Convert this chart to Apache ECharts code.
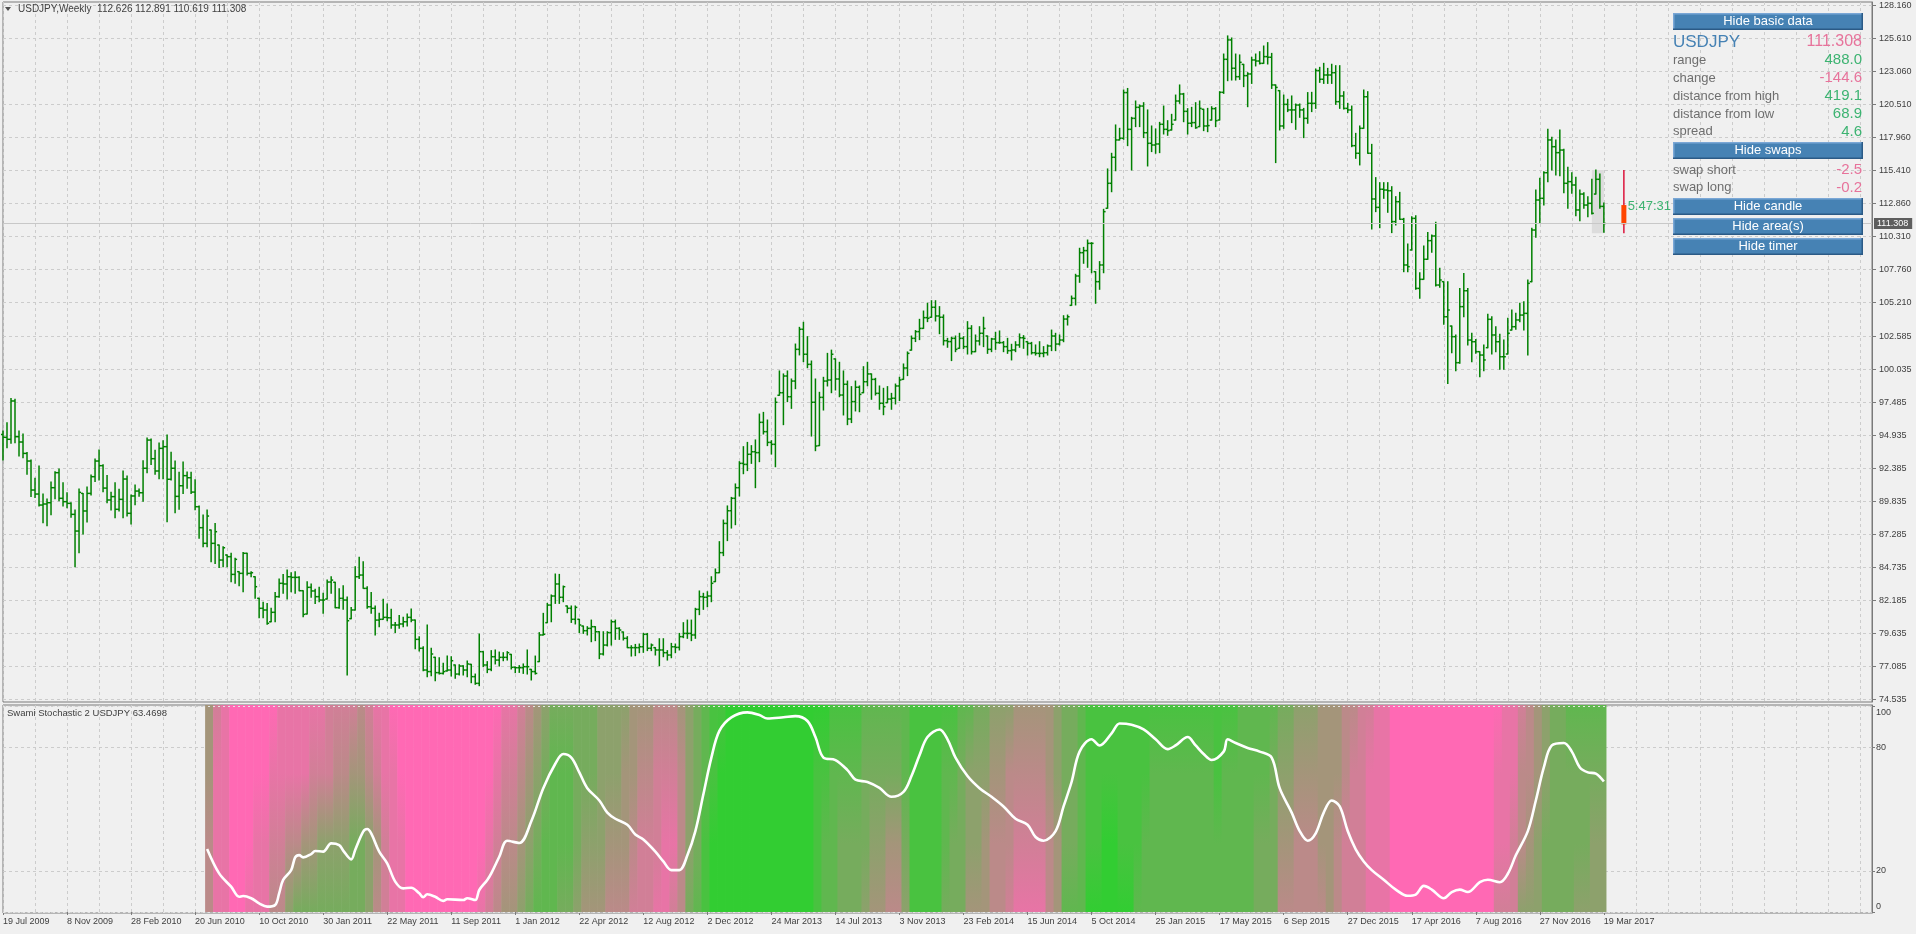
<!DOCTYPE html>
<html>
<head>
<meta charset="utf-8">
<title>USDJPY Weekly</title>
<script src="https://cdn.jsdelivr.net/npm/echarts@6/dist/echarts.min.js"></script>
<style>
html, body { margin: 0; padding: 0; background: #f0f0f0; }
#chart { width: 1916px; height: 934px; }
</style>
</head>
<body>
<div id="chart"></div>
<script>
// weekly bars, bar 0 = 19 Jul 2009, bar 400 = 19 Mar 2017
const firstOpen = 95.0
const highs = [95.27,95.91,97.79,97.72,95.27,95.04,93.60,93.03,91.61,92.57,90.40,90.01,91.33,92.13,92.33,91.28,90.50,89.73,89.16,90.79,
  90.45,90.94,91.87,93.11,93.80,92.67,91.84,90.53,91.28,90.76,92.18,91.79,90.32,91.10,90.79,92.98,94.73,94.65,93.78,94.34,
  94.52,94.96,93.62,92.95,92.08,92.87,92.10,92.08,91.51,89.47,88.78,89.16,87.62,88.13,86.46,86.33,85.69,85.82,85.43,84.40,
  85.89,85.82,84.40,84.01,82.34,82.03,81.95,81.57,82.80,83.83,84.19,84.53,84.32,84.40,84.01,82.93,83.63,83.45,83.04,83.19,
  82.73,83.75,84.01,83.58,83.09,83.32,82.44,81.64,84.78,85.51,85.17,83.24,82.80,81.75,81.18,82.26,81.90,81.50,80.48,81.02,
  80.87,81.13,81.51,80.66,79.38,78.60,80.28,78.48,77.78,77.75,77.32,77.88,77.83,77.19,77.21,77.14,77.50,77.24,76.49,79.58,
  78.22,77.45,78.30,78.35,78.19,78.14,78.22,78.01,77.03,77.14,77.27,78.35,76.85,77.88,79.69,81.18,81.95,82.60,84.22,84.19,
  83.29,81.75,81.75,81.75,80.72,80.20,80.15,80.66,80.15,79.76,79.76,79.76,80.66,80.66,80.07,79.74,79.38,78.68,78.78,78.81,
  79.63,79.63,78.81,78.53,79.22,79.22,78.30,78.86,78.81,79.63,80.46,80.66,80.66,81.57,82.91,82.73,82.85,84.01,84.61,86.72,
  88.39,89.48,90.14,91.18,92.90,94.06,94.39,94.14,94.58,96.58,96.71,96.12,94.52,97.82,99.91,99.68,99.91,99.29,101.99,103.28,
  103.67,102.56,100.68,99.29,98.26,99.42,101.27,101.52,100.84,100.58,99.91,99.13,98.70,99.13,98.75,100.24,100.58,99.68,99.34,98.75,
  98.57,98.70,98.18,98.90,99.42,100.45,101.38,102.61,103.03,103.90,104.54,105.14,105.34,105.34,104.88,104.24,102.43,102.51,102.61,102.82,
  102.56,103.72,103.41,102.69,103.33,104.06,102.61,102.43,102.90,103.00,102.18,102.43,101.97,102.17,102.77,102.64,102.17,102.12,101.92,102.17,
  101.79,101.92,103.07,102.82,102.69,104.18,104.23,105.70,107.38,109.39,109.46,110.03,109.82,107.58,108.36,112.40,115.52,116.73,118.92,118.66,
  121.62,121.74,119.51,120.77,120.46,120.64,120.08,118.84,118.61,119.12,120.38,119.25,119.74,121.23,122.01,121.36,120.18,120.28,120.64,120.77,
  120.13,120.20,120.33,120.26,121.49,124.40,125.80,125.64,124.40,124.33,123.60,122.96,124.15,124.40,124.58,125.02,125.28,124.45,122.01,121.57,
  121.23,120.90,121.16,120.54,120.54,120.20,121.42,121.44,123.24,123.37,123.68,123.29,123.61,123.50,123.50,121.49,120.59,120.38,118.27,118.84,
  121.62,121.49,117.42,114.85,114.46,114.46,114.46,114.15,113.38,113.71,111.70,109.72,111.83,111.91,107.50,109.57,110.60,110.42,111.40,107.84,
  106.81,106.81,103.38,102.69,106.29,107.45,106.29,102.82,102.35,101.40,101.92,104.29,104.10,103.33,102.74,102.30,103.98,104.62,104.36,105.14,
  105.26,106.94,110.93,113.89,114.80,115.31,118.58,117.96,117.76,118.53,117.04,115.65,115.23,114.87,113.89,113.69,113.38,114.72,115.44,115.13,
  112.891]
const lows = [93.03,93.98,94.32,94.37,93.34,93.21,91.92,90.20,90.14,89.47,88.19,87.95,88.80,90.04,89.89,89.47,89.34,88.60,84.79,85.87,
  87.31,88.24,90.32,91.36,91.48,90.58,89.73,89.16,88.57,89.09,88.57,88.70,88.08,89.58,90.22,89.84,92.05,92.69,91.92,91.59,
  91.59,88.26,91.48,88.96,89.22,90.45,90.84,90.45,89.19,86.98,86.33,86.33,85.17,85.04,84.73,84.78,84.78,83.63,83.50,83.32,
  82.85,84.14,84.01,82.34,80.84,80.84,80.33,80.53,80.53,82.42,82.73,82.29,82.85,82.73,82.93,80.92,81.13,82.42,81.95,82.08,
  81.18,82.29,82.73,81.62,81.57,81.49,76.41,80.77,81.44,83.88,83.11,81.57,81.18,79.50,80.15,80.72,80.61,80.02,79.71,80.02,
  80.15,80.20,80.53,78.45,78.27,76.75,76.29,76.36,75.98,76.49,76.49,76.73,76.34,76.16,76.42,76.42,76.29,75.82,75.70,75.59,
  77.06,76.60,76.75,77.27,77.11,77.52,77.57,76.88,76.60,76.62,76.54,76.49,76.03,76.49,77.45,79.51,80.46,80.53,81.95,81.95,
  82.08,81.23,80.48,80.36,79.69,79.63,79.51,78.99,79.07,77.68,77.96,78.66,78.73,79.17,79.17,79.12,78.53,77.88,77.91,78.14,
  78.17,78.30,78.30,77.96,77.14,77.83,77.57,77.75,78.14,78.35,79.30,79.25,79.07,79.25,81.08,81.49,81.69,82.08,83.63,84.32,
  85.64,86.80,87.77,88.03,90.25,91.97,92.21,92.77,90.89,92.90,95.04,94.14,93.49,92.51,98.03,95.76,97.54,97.02,98.54,101.15,
  100.63,100.16,94.88,93.75,94.14,96.89,98.75,98.23,98.44,97.92,96.51,95.76,95.92,96.82,96.76,98.23,98.77,97.72,98.05,96.95,
  96.53,97.46,96.95,97.36,97.62,99.26,99.55,101.52,102.18,102.33,103.20,103.72,104.06,103.77,102.79,101.92,101.74,100.71,101.40,101.66,
  101.63,101.22,101.22,101.40,101.92,101.79,101.27,101.40,101.58,102.05,101.40,101.27,100.76,101.40,101.74,101.66,101.14,101.22,101.14,101.01,
  101.01,101.14,101.48,101.48,101.92,102.17,103.46,104.98,105.01,106.76,108.23,107.92,107.50,105.14,106.22,107.50,112.48,113.76,115.38,117.76,
  117.81,117.32,115.44,118.79,118.79,117.94,115.75,116.86,116.73,116.78,118.22,118.12,118.53,119.30,120.59,119.17,118.22,118.79,118.66,118.79,
  118.48,118.40,119.30,118.79,119.30,121.36,122.34,122.39,122.39,122.44,121.88,120.33,122.13,123.48,123.63,123.68,123.63,121.74,116.01,118.53,
  118.66,119.95,119.10,118.58,119.51,117.94,119.05,119.95,120.20,122.21,122.13,122.13,122.13,120.51,120.20,120.15,119.87,117.24,116.34,115.83,
  118.66,116.73,110.88,112.22,110.98,113.25,112.17,110.60,111.19,111.63,107.58,107.58,109.26,106.22,105.52,106.99,108.54,109.08,106.47,106.37,
  103.51,98.95,101.32,99.93,100.50,104.10,101.92,100.63,101.27,99.47,99.93,101.71,101.22,101.40,100.04,100.04,101.22,103.07,103.13,103.72,
  103.07,101.14,106.81,110.24,111.32,112.73,114.54,115.44,115.05,115.00,113.69,112.48,113.64,111.91,111.52,112.48,111.83,112.04,113.58,112.48,
  110.619]
const closes = [94.78,94.63,97.59,94.83,94.42,93.54,92.95,90.71,90.40,89.55,89.63,89.73,90.89,92.05,90.07,89.81,89.68,88.83,87.54,90.53,
  89.09,90.45,91.74,92.95,92.59,90.86,89.94,90.20,89.22,89.99,91.56,88.91,90.25,90.63,90.50,92.39,94.57,93.13,92.18,93.93,
  94.06,91.54,92.39,90.22,91.04,91.82,91.66,90.55,89.42,87.80,86.59,88.70,86.59,87.49,85.30,86.25,85.56,84.19,85.35,84.27,
  85.82,84.27,84.32,83.24,81.57,81.44,80.41,81.26,82.47,83.50,83.45,84.01,83.96,83.96,82.93,81.10,83.19,82.91,82.47,82.21,
  82.21,83.60,83.75,81.62,82.34,82.21,80.61,81.44,84.01,84.14,83.11,81.69,81.57,80.66,80.72,80.87,80.84,80.28,80.28,80.36,
  80.53,80.87,80.66,79.17,78.48,76.80,76.68,78.04,76.60,76.54,76.68,76.80,77.52,76.49,77.11,76.80,77.27,76.29,75.77,78.22,
  77.19,76.85,77.83,77.57,77.78,77.78,78.14,77.01,76.98,76.98,77.06,77.06,76.68,76.54,79.51,79.56,81.82,82.52,83.45,82.42,
  83.24,81.57,80.72,81.64,80.28,79.84,80.02,80.15,79.76,78.04,78.73,79.69,80.53,80.02,79.89,79.25,78.53,78.53,78.53,78.60,
  79.56,78.48,78.73,78.35,78.35,78.14,77.96,78.60,78.55,79.38,79.63,79.63,79.51,81.49,82.47,82.42,82.52,83.50,84.32,85.87,
  88.13,89.11,90.07,90.89,92.77,92.69,93.47,93.67,93.60,95.94,95.22,94.39,94.24,97.49,98.23,99.52,97.92,99.13,101.58,103.13,
  101.20,100.42,97.49,94.11,97.87,99.13,99.21,101.20,99.29,98.05,98.88,96.20,97.54,98.65,98.10,99.08,99.68,99.26,98.18,97.41,
  97.15,97.74,97.80,98.75,99.21,100.14,101.27,102.43,102.95,103.20,104.03,103.98,104.83,104.16,104.06,102.25,102.18,102.43,101.58,102.43,
  101.79,103.20,101.40,102.23,102.82,103.20,101.58,102.38,102.10,102.10,101.79,101.48,101.53,101.92,102.48,102.43,102.04,101.32,101.27,101.27,
  101.32,101.84,102.61,101.99,102.30,103.92,104.10,105.52,107.25,109.05,109.21,109.77,109.77,106.81,108.10,112.22,114.41,116.42,117.76,117.89,
  121.42,118.58,119.43,120.28,120.38,118.32,117.50,117.37,117.45,118.97,118.58,118.48,118.97,120.77,121.31,119.97,119.05,119.10,118.71,120.20,
  118.84,118.87,120.18,119.25,121.44,123.99,125.49,123.30,122.65,123.76,122.73,122.86,123.94,123.86,123.68,124.20,124.15,122.01,121.82,118.84,
  120.51,120.08,120.08,120.46,120.08,119.43,120.59,120.59,123.12,122.45,122.78,122.78,122.96,120.72,121.16,120.20,120.08,117.32,116.73,118.66,
  121.10,116.73,113.20,112.55,113.95,113.89,113.84,111.45,112.99,111.63,108.10,107.97,111.70,106.29,106.99,108.54,109.98,110.34,106.55,106.94,
  104.10,104.62,102.56,100.55,104.88,106.11,102.30,102.17,101.40,101.14,100.76,103.90,102.69,102.17,101.01,101.01,102.82,103.33,103.85,104.23,
  104.36,106.68,110.80,113.12,113.25,115.23,117.76,117.24,116.78,116.98,114.41,114.54,114.28,112.35,113.58,112.73,112.86,112.09,114.72,112.626,
  111.308]

// panel candle and highlighted area at the end of the chart
const panelCandle = [405, 112.73, 115.44, 110.55, 111.24]
const panelArea = [397, 400, 115.44, 110.55]
const lastPrice = 111.308

// Swami stochastic line
const stochBars = [51,54,57,59,60,62,64,66,68,69,70,72,73,74,75,77,78,80,82,84,85,87,88,90,91,92,94,96,98,100,
  102,104,105,106,108,110,111,115,116,118,119,121,122,124,126,129,132,135,138,140,142,144,146,149,151,153,156,158,160,163,
  165,167,169,171,173,175,177,179,182,186,189,191,195,198,201,203,205,208,211,213,216,219,222,225,227,229,231,234,236,238,
  241,244,247,250,253,256,258,260,263,265,267,269,272,274,277,279,282,285,288,291,293,296,298,300,302,305,306,308,311,314,
  317,319,322,324,326,328,330,332,334,336,338,340,342,345,348,351,353,355,357,360,362,364,366,369,371,374,376,378,381,383,
  385,387,390,392,394,396,398,400]
const stochValues = [30.7,18.8,12.3,7.4,7.8,6.7,4.2,2.6,3.4,9.1,15.6,20.4,26.6,27.7,26.6,28.2,29.7,29.4,33.4,32.6,29.9,25.6,30.2,39.1,40.4,38.3,29.4,23.7,14.8,11.5,
  11.8,9.1,7.2,8.6,7.4,5.4,6.2,5.8,6.7,5.8,10.7,15.6,18.8,26.9,34.7,33.6,44.2,60.3,72.2,76.9,75.2,68,60.3,54.3,48.4,45.4,42.5,37.7,35.3,29.4,
  24.6,20.4,20.4,27.6,39.4,57.3,75.2,88.2,94.8,97.2,95.9,94.2,94.8,95.4,93,85.2,75.2,74,69.1,64.5,63.3,60.4,56.1,58.5,66.2,76.3,85.2,88.9,84.1,75.2,
  66.2,60.3,56.1,51.4,45.4,42.5,36.5,34.7,39.4,51.4,63.3,78.1,84.1,81.1,87,91.8,91.2,88.9,84.1,79.3,81.1,85.2,81.1,76.9,74,78.1,84.1,82.3,79.9,78.1,
  75.2,60.3,48.4,39.4,34.7,38.3,48.4,54.3,51.4,39.4,30.5,24.6,20.4,15.7,10.9,7.9,8.5,12.7,10.9,6.7,9.7,10.9,9.7,14.5,15.7,14.5,18.6,27.6,39.4,54.3,
  70.4,81.1,82.3,78.1,70.4,68,67.4,63.5]

// heat map: one digit per 2 bars from bar 51, 0 = pink ... 9 = green, four bands top to bottom
const heatStart = 51
const heatTop = '4210000001 1111122223 2110000000 0000000112 3456666665 5554443334 5678899999 9999999988 8877777788 8888776655 5444445667 8888888888 8888888887 7777665554 4433221100 0000000000 0011234566 77777'
const heatUpper = '4110000011 1112223344 3211000000 0000001223 4567776665 5544332223 5678999999 9999998877 7766666788 8877655544 3333345667 8888888877 7777778777 7776554444 4432211100 0000000000 0111334566 66666'
const heatLower = '3110001122 3344555566 5421100000 0000012334 5677776555 4443222113 5689999999 9999998776 6665544688 8876655433 3222234667 8899888777 7777777777 7666443334 4322211100 0000000000 0112345666 66655'
const heatBottom = '3110011133 5666666666 5321100000 0000123445 6777665444 3332221123 6789999999 9999998776 6654433588 8866644433 2111134777 9999997777 7777777777 7666333333 4322211100 0000000000 0222555666 65555'

const dateLabels = ['19 Jul 2009','8 Nov 2009','28 Feb 2010','20 Jun 2010','10 Oct 2010','30 Jan 2011','22 May 2011','11 Sep 2011',
  '1 Jan 2012','22 Apr 2012','12 Aug 2012','2 Dec 2012','24 Mar 2013','14 Jul 2013','3 Nov 2013','23 Feb 2014','15 Jun 2014',
  '5 Oct 2014','25 Jan 2015','17 May 2015','6 Sep 2015','27 Dec 2015','17 Apr 2016','7 Aug 2016','27 Nov 2016','19 Mar 2017']
const priceTicks = [74.535,77.085,79.635,82.185,84.735,87.285,89.835,92.385,94.935,97.485,100.035,102.585,105.210,107.760,
  110.310,112.860,115.410,117.960,120.510,123.060,125.610,128.160]
const stochTicks = [0, 20, 80, 100]

const titleText = 'USDJPY,Weekly  112.626 112.891 110.619 111.308'
const indicatorText = 'Swami Stochastic 2 USDJPY 63.4698'
const infoSymbol = ['USDJPY', '111.308']
const infoLabels = ['range', 'change', 'distance from high', 'distance from low', 'spread']
const infoValues = ['488.0', '-144.6', '419.1', '68.9', '4.6']
const swapLabels = ['swap short', 'swap long']
const swapValues = ['-2.5', '-0.2']
const buttonTexts = ['Hide basic data', 'Hide swaps', 'Hide candle', 'Hide area(s)', 'Hide timer']
const timerText = '5:47:31'

const FONT = '"Liberation Sans", Arial, sans-serif'
const PINK = [255, 105, 180]
const GREEN = [50, 205, 50]
const GRID_COLOR = '#cccccc'
const FRAME = '#7a7a7a'
const UP = '#3cb371'
const DOWN = '#e7739b'

const slotCount = 468
const categories = Array.from({length: slotCount}, (_, i) => String(i))

const ohlc = closes.map((c, i) => {
    const prev = i === 0 ? firstOpen : closes[i - 1]
    const open = Math.min(highs[i], Math.max(lows[i], prev))
    return [i, open, highs[i], lows[i], c]
})

const strip = s => s.replace(/\s/g, '').split('').map(Number)
const hT = strip(heatTop), hU = strip(heatUpper), hL = strip(heatLower), hB = strip(heatBottom)
const heatData = hT.map((v, c) => [heatStart + 2 * c, v, hU[c], hL[c], hB[c]])

const stochData = stochBars.map((b, i) => [b, stochValues[i]])

function mix (d) {
    const t = d / 9
    const ch = k => Math.round(PINK[k] + (GREEN[k] - PINK[k]) * t)
    return 'rgb(' + ch(0) + ',' + ch(1) + ',' + ch(2) + ')'
}

function renderBar (params, api) {
    const i = api.value(0)
    const po = api.coord([i, api.value(1)])
    const yh = api.coord([i, api.value(2)])[1]
    const yl = api.coord([i, api.value(3)])[1]
    const yc = api.coord([i, api.value(4)])[1]
    const x = po[0]
    const st = {stroke: '#008000', lineWidth: 1.5}
    return {
        type: 'group',
        children: [
            {type: 'line', shape: {x1: x, y1: yh - 0.5, x2: x, y2: yl + 0.5}, style: st},
            {type: 'line', shape: {x1: x - 2, y1: po[1], x2: x, y2: po[1]}, style: st},
            {type: 'line', shape: {x1: x, y1: yc, x2: x + 2, y2: yc}, style: st}
        ]
    }
}

function renderCandle (params, api) {
    const i = api.value(0)
    const po = api.coord([i, api.value(1)])
    const yh = api.coord([i, api.value(2)])[1]
    const yl = api.coord([i, api.value(3)])[1]
    const yc = api.coord([i, api.value(4)])[1]
    return {
        type: 'group',
        children: [
            {type: 'line', shape: {x1: po[0], y1: yh, x2: po[0], y2: yl}, style: {stroke: '#dc143c', lineWidth: 1.5}},
            {type: 'rect', shape: {x: po[0] - 2.5, y: po[1], width: 5, height: yc - po[1]}, style: {fill: '#ff4500'}}
        ]
    }
}

function renderArea (params, api) {
    const p0 = api.coord([api.value(0), api.value(2)])
    const p1 = api.coord([api.value(1), api.value(3)])
    return {type: 'rect', shape: {x: p0[0], y: p0[1], width: p1[0] - p0[0], height: p1[1] - p0[1]}, style: {fill: '#dcdcdc'}}
}

function renderHeat (params, api) {
    const b = api.value(0)
    const xa = api.coord([b, 0])[0]
    const xb = api.coord([b + 1, 0])[0]
    const w = xb - xa
    const cs = params.coordSys
    return {
        type: 'rect',
        shape: {x: xa - w / 2, y: cs.y, width: 2 * w + 0.6, height: cs.height - 1},
        style: {
            fill: new echarts.graphic.LinearGradient(0, 0, 0, 1, [
                {offset: 0, color: mix(api.value(1))},
                {offset: 0.33, color: mix(api.value(2))},
                {offset: 0.67, color: mix(api.value(3))},
                {offset: 1, color: mix(api.value(4))}
            ])
        }
    }
}

const every8 = i => i % 8 === 0
const every16 = i => i % 16 === 0 && i <= 400

// info panel, title texts
const graphics = [
    {type: 'polygon', shape: {points: [[5, 7], [11, 7], [8, 11]]}, style: {fill: '#505050'}},
    {type: 'text', x: 18, y: 9, style: {text: titleText, font: '10px ' + FONT, fill: '#404040', verticalAlign: 'middle'}},
    {type: 'text', x: 7, y: 713, style: {text: indicatorText, font: '9.5px ' + FONT, fill: '#404040', verticalAlign: 'middle'}},
    {type: 'text', x: 1671, y: 206, style: {text: timerText, font: '13px ' + FONT, fill: UP, align: 'right', verticalAlign: 'middle'}}
]
const btnY = [13, 142, 198, 218, 238]
buttonTexts.forEach((t, k) => {
    const y = btnY[k]
    graphics.push({type: 'rect', shape: {x: 1673, y: y, width: 190, height: 17}, style: {fill: '#4682b4'}})
    graphics.push({type: 'rect', shape: {x: 1673, y: y, width: 190, height: 1.5}, style: {fill: '#7aa7d6'}})
    graphics.push({type: 'rect', shape: {x: 1673, y: y, width: 1.5, height: 17}, style: {fill: '#7aa7d6'}})
    graphics.push({type: 'rect', shape: {x: 1673, y: y + 15.5, width: 190, height: 1.5}, style: {fill: '#2b5a86'}})
    graphics.push({type: 'rect', shape: {x: 1861.5, y: y, width: 1.5, height: 17}, style: {fill: '#2b5a86'}})
    graphics.push({type: 'text', x: 1768, y: y + 8.5, style: {text: t, font: '13px ' + FONT, fill: '#ffffff', align: 'center', verticalAlign: 'middle'}})
})
graphics.push({type: 'text', x: 1673, y: 42, style: {text: infoSymbol[0], font: '17px ' + FONT, fill: '#4682b4', verticalAlign: 'middle'}})
graphics.push({type: 'text', x: 1862, y: 42, style: {text: infoSymbol[1], font: '16px ' + FONT, fill: DOWN, align: 'right', verticalAlign: 'middle'}})
const rowY = [60, 78, 96, 114, 131.5]
infoLabels.forEach((t, k) => {
    graphics.push({type: 'text', x: 1673, y: rowY[k], style: {text: t, font: '13px ' + FONT, fill: '#6e6e6e', verticalAlign: 'middle'}})
    const v = infoValues[k]
    graphics.push({type: 'text', x: 1862, y: rowY[k], style: {text: v, font: '15px ' + FONT, fill: v[0] === '-' ? DOWN : UP, align: 'right', verticalAlign: 'middle'}})
})
const swapY = [170, 187.5]
swapLabels.forEach((t, k) => {
    graphics.push({type: 'text', x: 1673, y: swapY[k], style: {text: t, font: '13px ' + FONT, fill: '#6e6e6e', verticalAlign: 'middle'}})
    const v = swapValues[k]
    graphics.push({type: 'text', x: 1862, y: swapY[k], style: {text: v, font: '15px ' + FONT, fill: v[0] === '-' ? DOWN : UP, align: 'right', verticalAlign: 'middle'}})
})
graphics.forEach(g => { g.z = 100 })

const chart = echarts.init(document.getElementById('chart'))

const option = {
    animation: false,
    backgroundColor: '#f0f0f0',
    textStyle: {fontFamily: FONT},
    grid: [
        {left: 3, top: 2, width: 1869, height: 700, show: true, borderColor: FRAME, borderWidth: 1},
        {left: 3, top: 705, width: 1869, height: 208, show: true, borderColor: FRAME, borderWidth: 1}
    ],
    xAxis: [
        {
            type: 'category',
            gridIndex: 0,
            data: categories,
            boundaryGap: false,
            axisLine: {show: false},
            axisTick: {show: false},
            axisLabel: {show: false},
            splitLine: {show: true, interval: every8, lineStyle: {color: GRID_COLOR, type: [3, 3]}}
        },
        {
            type: 'category',
            gridIndex: 1,
            data: categories,
            boundaryGap: false,
            axisLine: {show: false},
            axisTick: {show: true, interval: every16, length: 3, lineStyle: {color: FRAME}},
            axisLabel: {
                interval: every16,
                formatter: (v, i) => dateLabels[i / 16],
                align: 'left',
                fontSize: 9,
                color: '#404040',
                margin: 4
            },
            splitLine: {show: true, interval: every8, lineStyle: {color: GRID_COLOR, type: [3, 3]}}
        }
    ],
    yAxis: [
        {
            type: 'value',
            gridIndex: 0,
            position: 'right',
            min: 74.33,
            max: 128.42,
            axisLine: {show: true, lineStyle: {color: FRAME}},
            axisTick: {show: true, customValues: priceTicks, length: 4, lineStyle: {color: FRAME}},
            axisLabel: {customValues: priceTicks, formatter: v => v.toFixed(3), fontSize: 9, color: '#404040', margin: 7},
            splitLine: {show: true, lineStyle: {color: GRID_COLOR, type: [3, 3]}}
        },
        {
            type: 'value',
            gridIndex: 1,
            position: 'right',
            min: -0.5,
            max: 100.8,
            axisLine: {show: true, lineStyle: {color: FRAME}},
            axisTick: {show: true, customValues: stochTicks, length: 3, lineStyle: {color: FRAME}},
            axisLabel: {
                customValues: stochTicks,
                formatter: v => v === 100 ? '{t|100}' : v === 0 ? '{b|0}' : String(v),
                fontSize: 9,
                color: '#404040',
                margin: 4,
                rich: {t: {fontSize: 9, color: '#404040', padding: [11, 0, 0, 0]}, b: {fontSize: 9, color: '#404040', padding: [0, 0, 10, 0]}}
            },
            splitLine: {show: true, lineStyle: {color: GRID_COLOR, type: [3, 3]}}
        }
    ],
    series: [
        {
            type: 'custom',
            name: 'area',
            xAxisIndex: 0,
            yAxisIndex: 0,
            z: 1,
            renderItem: renderArea,
            encode: {x: [0, 1], y: [2, 3]},
            data: [panelArea],
            markLine: {
                silent: true,
                symbol: 'none',
                lineStyle: {color: '#c8c8c8', type: 'solid', width: 1},
                label: {
                    show: true,
                    position: 'end',
                    distance: 2,
                    formatter: lastPrice.toFixed(3),
                    backgroundColor: '#5e5e5e',
                    color: '#ffffff',
                    fontSize: 9,
                    padding: [1, 4, 1, 3]
                },
                data: [{yAxis: lastPrice}]
            }
        },
        {
            type: 'custom',
            name: 'USDJPY',
            xAxisIndex: 0,
            yAxisIndex: 0,
            z: 2,
            renderItem: renderBar,
            encode: {x: 0, y: [1, 2, 3, 4]},
            data: ohlc
        },
        {
            type: 'custom',
            name: 'candle',
            xAxisIndex: 0,
            yAxisIndex: 0,
            z: 2,
            renderItem: renderCandle,
            encode: {x: 0, y: [1, 2, 3, 4]},
            data: [panelCandle]
        },
        {
            type: 'custom',
            name: 'heat',
            xAxisIndex: 1,
            yAxisIndex: 1,
            z: 2,
            renderItem: renderHeat,
            encode: {x: 0, y: 1},
            data: heatData
        },
        {
            type: 'line',
            name: 'Swami Stochastic',
            xAxisIndex: 1,
            yAxisIndex: 1,
            z: 3,
            data: stochData,
            smooth: 0.35,
            showSymbol: false,
            lineStyle: {color: '#ffffff', width: 2.6},
            markLine: {
                silent: true,
                symbol: 'none',
                label: {show: false},
                lineStyle: {color: '#e4e4e4', type: [2, 3], width: 1},
                data: [{yAxis: 100}, {yAxis: 0}]
            }
        }
    ],
    graphic: graphics
}

chart.setOption(option)
</script>
</body>
</html>
